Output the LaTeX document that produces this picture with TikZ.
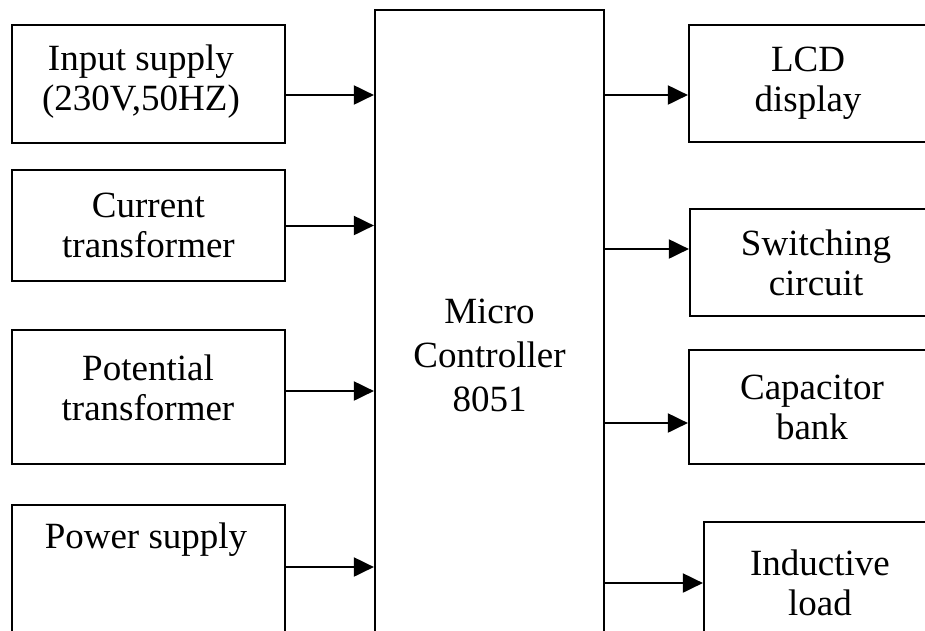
\documentclass[tikz,border=0pt]{standalone}
\usepackage{fontspec}
\setmainfont{Liberation Serif}
\usetikzlibrary{arrows.meta}
\begin{document}
\begin{tikzpicture}
    [ x=1pt, y=-1pt
    , every node/.style={font=\fontsize{37}{40}\selectfont}
    , blk/.style={draw, line width=2.2pt, inner sep=0pt, align=center}
    , lbl/.style={align=center, inner sep=0pt}
    , arr/.style={-{Triangle[length=20pt,width=19pt]}, line width=2pt}
    ]
    \useasboundingbox (0,0) rectangle (925,630);
    \clip (0,0) rectangle (925,630);

    % controller
    \node [blk, minimum width=229pt, minimum height=690pt, font=\fontsize{37}{44}\selectfont]
      (mc) at (489.5,355) {Micro\\Controller\\8051};

    % inputs
    \node [blk, minimum width=273pt, minimum height=118pt] (inp) at (148.5,84) {};
    \node [lbl] (inp-t) at (141,82) {Input supply\\(230V,50HZ)};
    \node [blk, minimum width=273pt, minimum height=111pt] (ct)  at (148.5,225.5) {Current\\transformer};
    \node [blk, minimum width=273pt, minimum height=134pt] (pt)  at (148.5,397) {};
    \node [lbl] (pt-t) at (148,388) {Potential\\transformer};
    \node [blk, minimum width=273pt, minimum height=140pt] (ps)  at (148.5,575) {};
    \node [lbl] (ps-t) at (146,540) {Power supply};

    % outputs
    \node [blk, minimum width=238pt, minimum height=117pt] (lcd) at (808,83.5) {LCD\\display};
    \node [blk, minimum width=252pt, minimum height=107pt] (sw)  at (816,262.5) {Switching\\circuit};
    \node [blk, minimum width=246pt, minimum height=114pt] (cap) at (812,407) {Capacitor\\bank};
    \node [blk, minimum width=232pt, minimum height=122pt] (ind) at (820,583) {Inductive\\load};

    % connectors in
    \coordinate (a1) at ([yshift=-11pt]inp.east);
    \coordinate (a2) at (ct.east);
    \coordinate (a3) at ([yshift=6pt]pt.east);
    \coordinate (a4) at ([yshift=8pt]ps.east);
    \draw [arr] (a1) -- (a1 -| mc.west);
    \draw [arr] (a2) -- (a2 -| mc.west);
    \draw [arr] (a3) -- (a3 -| mc.west);
    \draw [arr] (a4) -- (a4 -| mc.west);

    % connectors out
    \coordinate (b1) at ([yshift=-11.5pt]lcd.west);
    \coordinate (b2) at ([yshift=13.5pt]sw.west);
    \coordinate (b3) at ([yshift=-16pt]cap.west);
    \coordinate (b4) at (ind.west);
    \draw [arr] (b1 -| mc.east) -- (b1);
    \draw [arr] (b2 -| mc.east) -- (b2);
    \draw [arr] (b3 -| mc.east) -- (b3);
    \draw [arr] (b4 -| mc.east) -- (b4);
\end{tikzpicture}
\end{document}
